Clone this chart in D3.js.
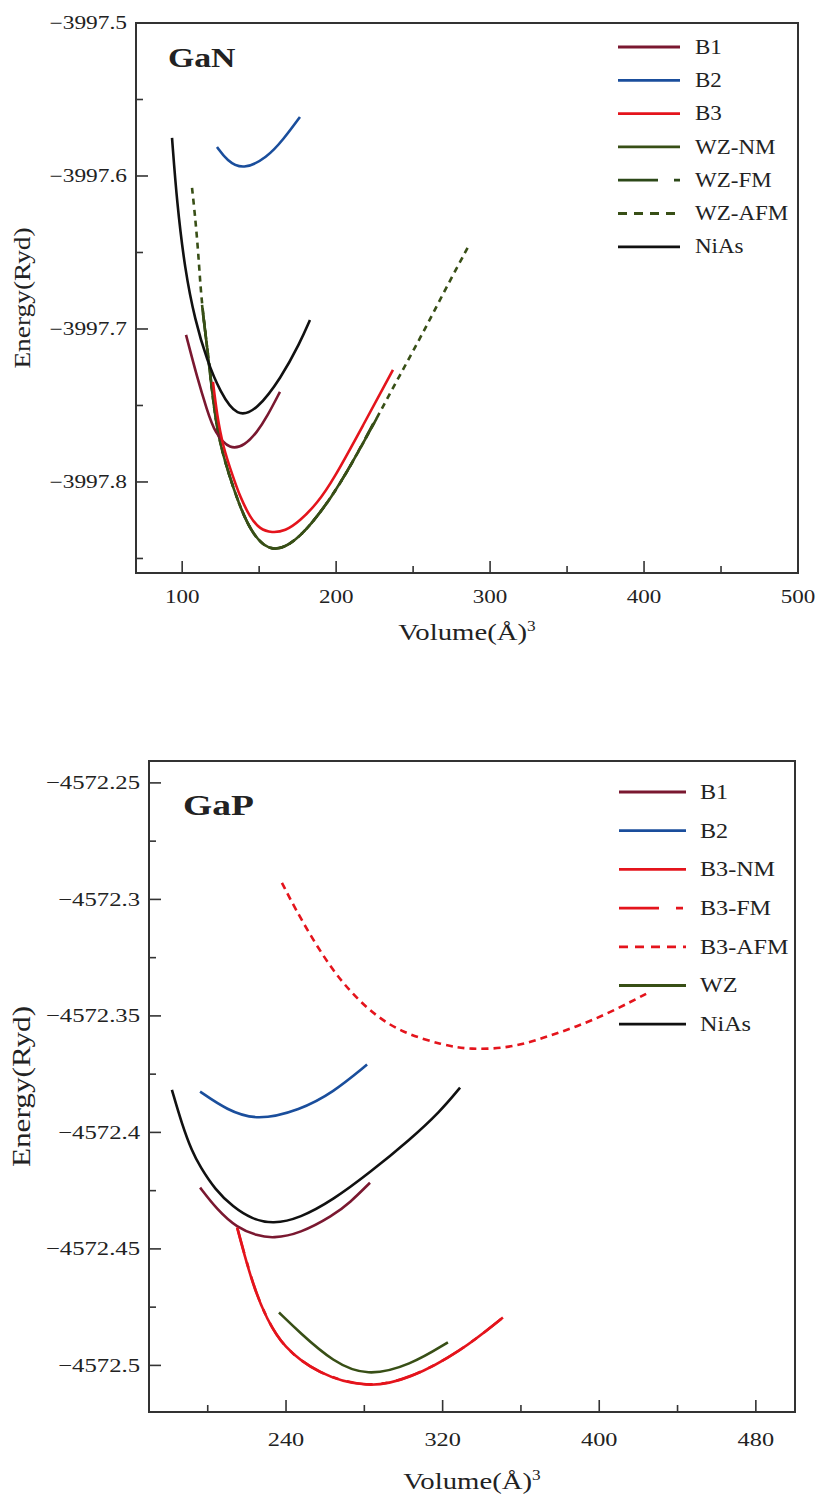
<!DOCTYPE html>
<html>
<head>
<meta charset="utf-8">
<script src="https://cdn.jsdelivr.net/npm/d3@7"></script>
<style>
html,body{margin:0;padding:0;background:#fff;}
svg{display:block;}
text{font-family:"Liberation Serif","Times New Roman",serif;fill:#222;}
</style>
</head>
<body>
<svg id="chart" width="820" height="1495"></svg>
<script>
// ---------------- DATA : GaN panel ----------------
const ganNames = ["B1","B2","B3","WZ-NM","WZ-FM","WZ-AFM","NiAs"];
const ganXTicks = [100,200,300,400,500];
const ganXMinor = [150,250,350,450];
const ganYTicks = [-3997.5,-3997.6,-3997.7,-3997.8];
const ganYLabels = ["\u22123997.5","\u22123997.6","\u22123997.7","\u22123997.8"];
const ganYMinor = [-3997.55,-3997.65,-3997.75,-3997.85];

const ganB1 = [[102.5,-3997.7039],[109.6,-3997.7313],[116.1,-3997.7529],[121.3,-3997.7682],[131.1,-3997.7792],[140.8,-3997.7760],[148.6,-3997.7675],[155.1,-3997.7574],[163.5,-3997.7411]];
const ganB2 = [[122.6,-3997.5810],[129.1,-3997.5900],[139.5,-3997.5962],[155.1,-3997.5880],[165.5,-3997.5764],[176.5,-3997.5614]];
const ganB3 = [[120.0,-3997.7346],[122.6,-3997.7561],[126.5,-3997.7770],[133.0,-3997.7966],[137.6,-3997.8097],[144.0,-3997.8230],[150.5,-3997.8310],[158.3,-3997.8332],[166.8,-3997.8322],[176.5,-3997.8255],[187.6,-3997.8140],[198.0,-3997.7990],[217.5,-3997.7630],[236.9,-3997.7267]];
const ganWZNM = [[112.9,-3997.6843],[116.8,-3997.7169],[120.7,-3997.7529],[124.6,-3997.7760],[133.0,-3997.8040],[144.0,-3997.8330],[158.3,-3997.8475],[176.5,-3997.8375],[198.0,-3997.8090],[212.3,-3997.7842],[226.5,-3997.7581]];
const ganWZFM = [[113.5,-3997.6900],[117.0,-3997.7180],[120.9,-3997.7535],[124.8,-3997.7765],[133.2,-3997.8044],[144.2,-3997.8332],[158.5,-3997.8476],[176.7,-3997.8372],[198.2,-3997.8086],[212.5,-3997.7838],[224.0,-3997.7620]];
const ganWZAFM = [[106.4,-3997.6078],[108.3,-3997.6254],[110.3,-3997.6483],[111.6,-3997.6679],[112.9,-3997.6843],[116.8,-3997.7169],[120.7,-3997.7529],[124.6,-3997.7760],[133.0,-3997.8040],[144.0,-3997.8330],[158.3,-3997.8475],[176.5,-3997.8375],[198.0,-3997.8090],[212.3,-3997.7842],[226.5,-3997.7581],[241.5,-3997.7300],[256.4,-3997.7026],[270.7,-3997.6745],[285.7,-3997.6464]];
const ganNiAs = [[93.4,-3997.5751],[96.6,-3997.6176],[101.8,-3997.6614],[108.3,-3997.6941],[116.1,-3997.7205],[124.6,-3997.7410],[135.6,-3997.7580],[148.6,-3997.7530],[164.2,-3997.7320],[176.5,-3997.7091],[183.0,-3997.6941]];

// ---------------- DATA : GaP panel ----------------
const gapNames = ["B1","B2","B3-NM","B3-FM","B3-AFM","WZ","NiAs"];
const gapXTicks = [240,320,400,480];
const gapXMinor = [200,280,360,440];
const gapYTicks = [-4572.25,-4572.3,-4572.35,-4572.4,-4572.45,-4572.5];
const gapYLabels = ["\u22124572.25","\u22124572.3","\u22124572.35","\u22124572.4","\u22124572.45","\u22124572.5"];
const gapYMinor = [-4572.275,-4572.325,-4572.375,-4572.425,-4572.475];

const gapB1 = [[196.1,-4572.4237],[204.7,-4572.4331],[215.0,-4572.4410],[225.2,-4572.4443],[233.3,-4572.4455],[247.1,-4572.4434],[264.0,-4572.4357],[272.7,-4572.4301],[282.9,-4572.4216]];
const gapB2 = [[196.1,-4572.3825],[209.8,-4572.3904],[225.2,-4572.3950],[247.1,-4572.3904],[264.0,-4572.3829],[281.4,-4572.3709]];
const gapB3NM = [[215.0,-4572.4408],[223.1,-4572.4661],[230.3,-4572.4803],[238.5,-4572.4920],[255.8,-4572.5035],[281.4,-4572.5100],[303.3,-4572.5058],[328.9,-4572.4942],[350.8,-4572.4794]];
const gapB3FM = [[215.2,-4572.4412],[223.3,-4572.4663],[230.5,-4572.4805],[238.7,-4572.4922],[256.0,-4572.5036],[281.6,-4572.5098],[303.5,-4572.5056],[329.1,-4572.4940],[350.0,-4572.4800]];
const gapB3AFM = [[237.9,-4572.2929],[247.1,-4572.3079],[264.0,-4572.3315],[281.4,-4572.3473],[298.2,-4572.3570],[320.2,-4572.3625],[334.0,-4572.3645],[354.4,-4572.3638],[371.3,-4572.3595],[388.6,-4572.3546],[405.5,-4572.3486],[424.9,-4572.3401]];
const gapWZ = [[236.4,-4572.4773],[247.1,-4572.4860],[264.0,-4572.4985],[281.4,-4572.5048],[303.3,-4572.5000],[322.7,-4572.4901]];
const gapNiAs = [[181.7,-4572.3817],[186.9,-4572.3967],[192.0,-4572.4082],[196.1,-4572.4147],[203.7,-4572.4245],[212.9,-4572.4320],[222.6,-4572.4372],[233.3,-4572.4393],[247.1,-4572.4368],[264.0,-4572.4290],[282.9,-4572.4172],[303.3,-4572.4031],[318.7,-4572.3911],[328.9,-4572.3808]];

// ---------------- STYLES ----------------
const C = {b1:"#7a1830", b2:"#1a4e9c", b3:"#e4141c", wz:"#384f16", wzfm:"#2c4818", niAs:"#111111"};
const DASH_FM = "26,9,6,9";
const DASH_AFM = "6,5";

const svg = d3.select("#chart");
svg.append("rect").attr("width",820).attr("height",1495).attr("fill","#fff");

function sText(g, x, y, str, size, sx, anchor, weight){
  const t = g.append("text")
    .attr("transform", `translate(${x},${y}) scale(${sx},1)`)
    .attr("font-size", size)
    .attr("text-anchor", anchor || "start")
    .text(str);
  if (weight) t.attr("font-weight", weight);
  return t;
}

function panel(cfg){
  const g = svg.append("g");
  const x = d3.scaleLinear().domain(cfg.xDom).range([cfg.left, cfg.right]);
  const y = d3.scaleLinear().domain(cfg.yDom).range([cfg.bottom, cfg.top]);

  // ticks (inward)
  const tk = g.append("g").attr("stroke","#333").attr("stroke-width",1.6);
  cfg.xTicks.forEach(v=>tk.append("line").attr("x1",x(v)).attr("x2",x(v)).attr("y1",cfg.bottom).attr("y2",cfg.bottom-12));
  cfg.xMinor.forEach(v=>tk.append("line").attr("x1",x(v)).attr("x2",x(v)).attr("y1",cfg.bottom).attr("y2",cfg.bottom-7));
  cfg.yTicks.forEach(v=>tk.append("line").attr("y1",y(v)).attr("y2",y(v)).attr("x1",cfg.left).attr("x2",cfg.left+12));
  cfg.yMinor.forEach(v=>tk.append("line").attr("y1",y(v)).attr("y2",y(v)).attr("x1",cfg.left).attr("x2",cfg.left+7));

  // tick labels
  cfg.xTicks.forEach(v=>sText(g, x(v), cfg.xLabY, String(v), cfg.tickSize, 1.28, "middle"));
  cfg.yTicks.forEach((v,i)=>sText(g, cfg.left-9, y(v)+cfg.tickSize*0.34, cfg.yLabels[i], cfg.tickSize, 1.3, "end"));

  // curves
  const line = d3.line().x(d=>x(d[0])).y(d=>y(d[1])).curve(d3.curveBasis);
  const cg = g.append("g").attr("fill","none").attr("stroke-width",2.6).attr("stroke-linecap","butt");
  cfg.series.forEach(s=>{
    const p = cg.append("path").attr("d", line(s.data)).attr("stroke", s.color);
    if (s.dash) p.attr("stroke-dasharray", s.dash);
  });

  // frame
  g.append("rect").attr("x",cfg.left).attr("y",cfg.top)
    .attr("width",cfg.right-cfg.left).attr("height",cfg.bottom-cfg.top)
    .attr("fill","none").attr("stroke","#333").attr("stroke-width",2);

  // legend
  const lg = g.append("g");
  cfg.legend.forEach((s,i)=>{
    const yy = cfg.legY + i*cfg.legStep;
    const l = lg.append("line").attr("x1",cfg.legX1).attr("x2",cfg.legX2).attr("y1",yy).attr("y2",yy)
      .attr("stroke",s.color).attr("stroke-width",2.8);
    if (s.legDash) l.attr("stroke-dasharray", s.legDash);
    sText(lg, cfg.legTX, yy + cfg.legSize*0.33, s.name, cfg.legSize, 1.15, "start");
  });

  // panel label
  sText(g, cfg.labX, cfg.labY, cfg.label, cfg.labSize, 1.25, "start", "bold");

  // axis titles
  const xt = g.append("text")
    .attr("transform", `translate(${(cfg.left+cfg.right)/2},${cfg.xTitleY}) scale(1.25,1)`)
    .attr("font-size", cfg.titleSize).attr("text-anchor","middle");
  xt.append("tspan").text("Volume(\u00C5)");
  xt.append("tspan").attr("dy", -cfg.titleSize*0.38).attr("font-size", cfg.titleSize*0.6).text("3");
  g.append("text")
    .attr("transform", `translate(${cfg.yTitleX},${(cfg.top+cfg.bottom)/2}) rotate(-90) scale(${cfg.yTitleStretch},1)`)
    .attr("font-size", cfg.yTitleSize).attr("text-anchor","middle").text("Energy(Ryd)");
}

// GaN panel
panel({
  xDom:[70,500], yDom:[-3997.8595,-3997.5],
  left:136, right:798, top:23, bottom:573,
  xTicks:ganXTicks, xMinor:ganXMinor, yTicks:ganYTicks, yLabels:ganYLabels, yMinor:ganYMinor,
  tickSize:18, xLabY:603,
  series:[
    {data:ganWZAFM, color:C.wz, dash:DASH_AFM},
    {data:ganWZFM, color:C.wzfm, dash:DASH_FM},
    {data:ganWZNM, color:C.wz},
    {data:ganNiAs, color:C.niAs},
    {data:ganB2, color:C.b2},
    {data:ganB1, color:C.b1},
    {data:ganB3, color:C.b3}
  ],
  legend:[
    {name:ganNames[0], color:C.b1},
    {name:ganNames[1], color:C.b2},
    {name:ganNames[2], color:C.b3},
    {name:ganNames[3], color:C.wz},
    {name:ganNames[4], color:C.wzfm, legDash:"40,16,7,60"},
    {name:ganNames[5], color:C.wz, legDash:"9,7"},
    {name:ganNames[6], color:C.niAs}
  ],
  legY:47, legStep:33.3, legX1:618, legX2:680, legTX:695, legSize:20,
  label:"GaN", labX:168, labY:67, labSize:27,
  titleSize:23, xTitleY:640, yTitleX:30, yTitleSize:24, yTitleStretch:1.14
});

// GaP panel
panel({
  xDom:[170,500], yDom:[-4572.52,-4572.2406],
  left:149, right:795, top:761, bottom:1412,
  xTicks:gapXTicks, xMinor:gapXMinor, yTicks:gapYTicks, yLabels:gapYLabels, yMinor:gapYMinor,
  tickSize:19, xLabY:1446,
  series:[
    {data:gapB3FM, color:C.b3, dash:DASH_FM},
    {data:gapB3AFM, color:C.b3, dash:"7,5"},
    {data:gapB2, color:C.b2},
    {data:gapNiAs, color:C.niAs},
    {data:gapB1, color:C.b1},
    {data:gapWZ, color:C.wz},
    {data:gapB3NM, color:C.b3}
  ],
  legend:[
    {name:gapNames[0], color:C.b1},
    {name:gapNames[1], color:C.b2},
    {name:gapNames[2], color:C.b3},
    {name:gapNames[3], color:C.b3, legDash:"40,17,7,60"},
    {name:gapNames[4], color:C.b3, legDash:"9,7"},
    {name:gapNames[5], color:C.wz},
    {name:gapNames[6], color:C.niAs}
  ],
  legY:792, legStep:38.7, legX1:619, legX2:686, legTX:700, legSize:21,
  label:"GaP", labX:183, labY:815, labSize:30,
  titleSize:23, xTitleY:1489, yTitleX:30, yTitleSize:25, yTitleStretch:1.25
});
</script>
</body>
</html>
